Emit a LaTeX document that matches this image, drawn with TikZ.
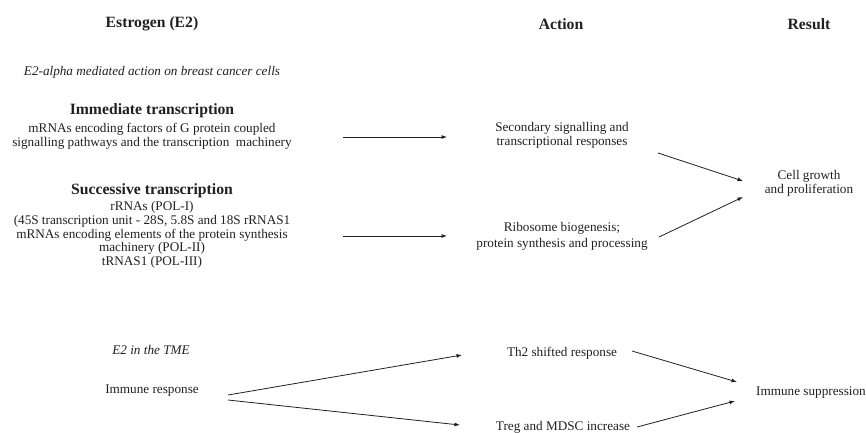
\documentclass[tikz,border=0pt]{standalone}
\usepackage{fontspec}
\setmainfont{Liberation Serif}
\usetikzlibrary{calc,arrows.meta}
\definecolor{ink}{HTML}{231F20}
\begin{document}
\begin{tikzpicture}[x=1pt,y=-1pt,
  txt/.style={inner sep=0pt,align=center,text=ink,font=\fontsize{13.2}{14.5}\selectfont},
  itx/.style={txt,font=\fontsize{13.2}{14.5}\selectfont\itshape},
  hdr/.style={inner sep=0pt,align=center,text=ink,font=\fontsize{15.7}{18}\selectfont\bfseries},
  arr/.style={draw=ink,line width=0.8pt,-{Latex[length=5.5pt,width=4pt]}}]
\useasboundingbox (0,0) rectangle (866,432);
% headers
\node[hdr] (hE) at (152,24) {Estrogen (E2)};
\node[hdr] (hA) at (561,24) {Action};
\node[hdr] (hR) at (809,24) {Result};
% section 1
\node[itx] (sub1) at (152,72) {E2-alpha mediated action on breast cancer cells};
\node[hdr] (immT) at (152,111) {Immediate transcription};
\node[txt,font=\fontsize{13.2}{14}\selectfont] (immB) at (152,136.5) {mRNAs encoding factors of G protein coupled\\signalling pathways and the transcription\ \ machinery};
\node[hdr] (sucT) at (152,191) {Successive transcription};
\node[txt,font=\fontsize{13.2}{13.6}\selectfont] (sucB) at (152,235) {rRNAs (POL-I)\\(45S transcription unit - 28S, 5.8S and 18S rRNAS1\\mRNAs encoding elements of the protein synthesis\\machinery (POL-II)\\tRNAS1 (POL-III)};
\node[txt] (sec) at (562,135.5) {Secondary signalling and\\transcriptional responses};
\node[txt,font=\fontsize{13.2}{16.5}\selectfont] (rib) at (562,236.5) {Ribosome biogenesis;\\protein synthesis and processing};
\node[txt] (cell) at (809,183.5) {Cell growth\\and proliferation};
\draw[arr] ($(immB)+(191,0.5)$) -- ($(sec)+(-115,1.5)$);
\draw[arr] ($(sucB)+(191,1)$) -- ($(rib)+(-115,-0.5)$);
\draw[arr] ($(sec)+(96,17.5)$) -- ($(cell)+(-66,-2.5)$);
\draw[arr] ($(rib)+(97,0.5)$) -- ($(cell)+(-66,13.5)$);
% section 2
\node[itx] (tme) at (151,350) {E2 in the TME};
\node[txt] (imr) at (152,391) {Immune response};
\node[txt] (th2) at (562,353) {Th2 shifted response};
\node[txt] (treg) at (563,427) {Treg and MDSC increase};
\node[txt] (isup) at (811,393) {Immune suppression};
\draw[arr] ($(imr)+(76,4)$) -- ($(th2)+(-100,2)$);
\draw[arr] ($(imr)+(76,9)$) -- ($(treg)+(-103,-2)$);
\draw[arr] ($(th2)+(70,-2)$) -- ($(isup)+(-74,-11)$);
\draw[arr] ($(treg)+(74,0)$) -- ($(isup)+(-76,8)$);
\end{tikzpicture}
\end{document}
